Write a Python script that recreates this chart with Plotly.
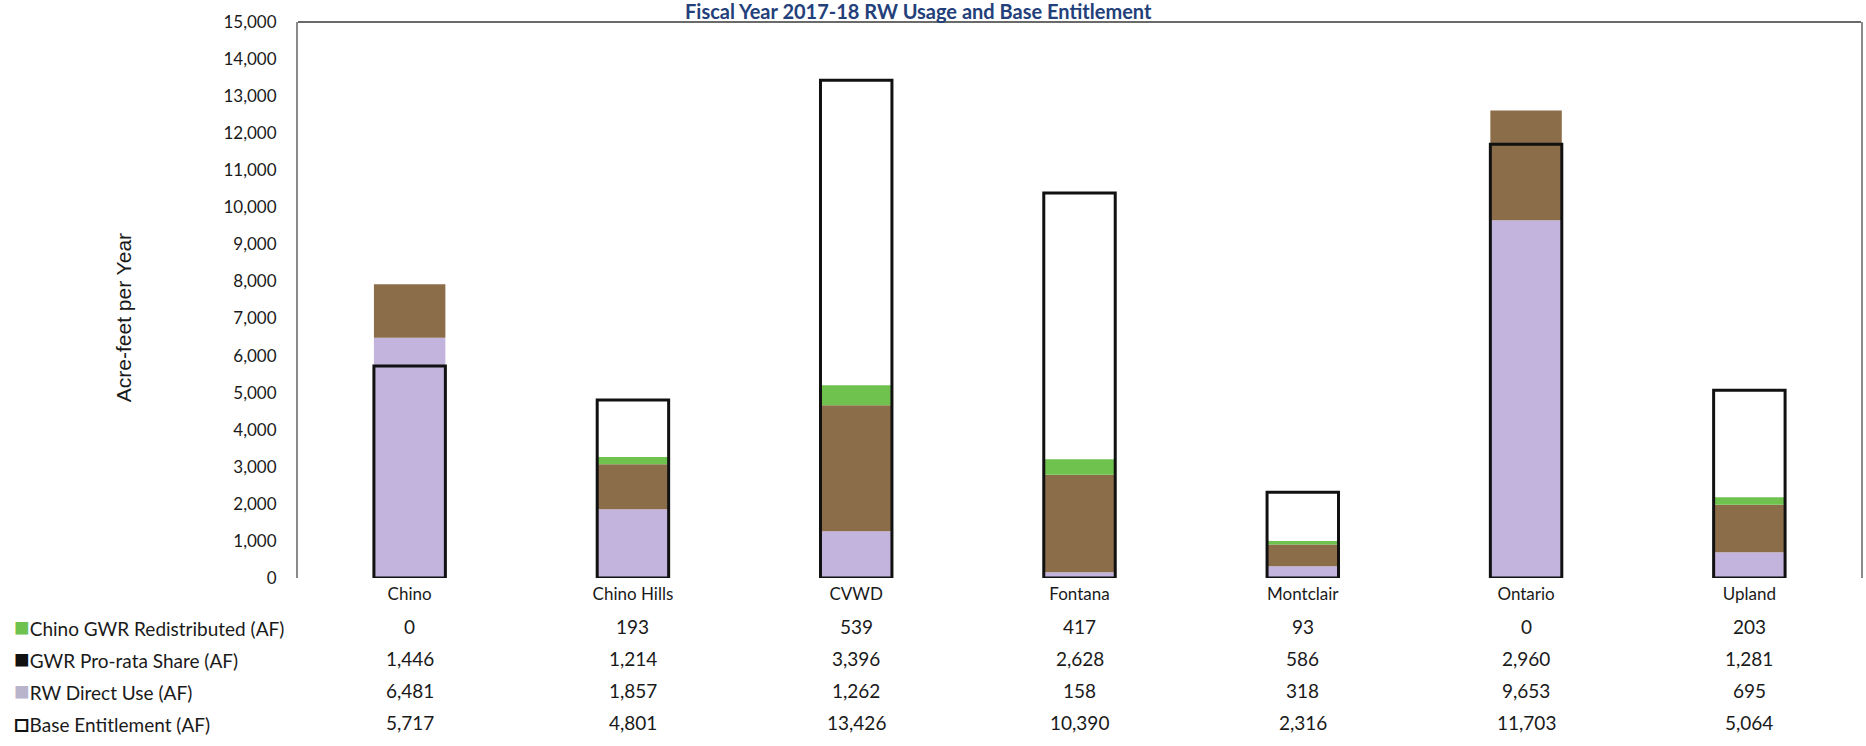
import numpy as np
import plotly.graph_objects as go

# Agencies and fiscal-year 2017-18 values (acre-feet)
agencies = ["Chino", "Chino Hills", "CVWD", "Fontana", "Montclair", "Ontario", "Upland"]
gwr_redistributed = [0, 193, 539, 417, 93, 0, 203]
gwr_prorata = [1446, 1214, 3396, 2628, 586, 2960, 1281]
rw_direct_use = [6481, 1857, 1262, 158, 318, 9653, 695]
base_entitlement = [5717, 4801, 13426, 10390, 2316, 11703, 5064]

y_ticks = list(range(0, 15001, 1000))

PURPLE = "#C3B4DD"
BROWN = "#8C6D4A"
GREEN = "#6FC24E"
FONT = "Lato"

rw = np.array(rw_direct_use)
pr = np.array(gwr_prorata)
gr = np.array(gwr_redistributed)

BAR_W = 0.32

fig = go.Figure()
fig.add_trace(go.Bar(x=agencies, y=rw, base=0, width=BAR_W,
                     marker=dict(color=PURPLE, line=dict(width=0)),
                     name="RW Direct Use (AF)"))
fig.add_trace(go.Bar(x=agencies, y=pr, base=rw, width=BAR_W,
                     marker=dict(color=BROWN, line=dict(width=0)),
                     name="GWR Pro-rata Share (AF)"))
fig.add_trace(go.Bar(x=agencies, y=gr, base=rw + pr, width=BAR_W,
                     marker=dict(color=GREEN, line=dict(width=0)),
                     name="Chino GWR Redistributed (AF)"))
fig.add_trace(go.Bar(x=agencies, y=base_entitlement, base=0, width=BAR_W,
                     marker=dict(color="rgba(0,0,0,0)", line=dict(color="#111111", width=3)),
                     name="Base Entitlement (AF)"))

fig.update_layout(
    width=1866, height=746,
    margin=dict(l=298, r=3, t=22, b=168),
    barmode="overlay",
    showlegend=False,
    plot_bgcolor="white",
    paper_bgcolor="white",
    font=dict(family=FONT, color="#1a1a1a", size=16),
)
fig.update_xaxes(
    showline=False, showgrid=False, ticks="",
    tickfont=dict(size=17, family=FONT, color="#1a1a1a"),
    ticklabelstandoff=4,
)
fig.update_yaxes(
    range=[0, 15000], tickvals=y_ticks,
    ticktext=[f"{v:,}" for v in y_ticks],
    showgrid=False, zeroline=False,
    showline=True, mirror=True, linecolor="#8a8a8a", linewidth=2,
    ticks="", ticklabelstandoff=16,
    tickfont=dict(size=17, family=FONT, color="#1a1a1a"),
)

# top border of the plotting box
fig.add_shape(type="line", xref="paper", yref="paper", x0=0, x1=1, y0=1, y1=1,
              line=dict(color="#6a6a6a", width=2))

PLOT_H = 746 - 22 - 168

# chart title, squeezed into the strip above the box
fig.add_annotation(text="<b>Fiscal Year 2017-18 RW Usage and Base Entitlement</b>",
                   xref="paper", yref="paper", x=(919 - 298) / 1565, y=1 + 25 / PLOT_H,
                   xanchor="center", yanchor="top", showarrow=False,
                   font=dict(size=20, family=FONT, color="#23407A"))

# y-axis title
fig.add_annotation(text="Acre-feet per Year", xref="paper", yref="paper",
                   x=-(298 - 123) / 1565, y=(578 - 318) / PLOT_H, textangle=-90,
                   xanchor="center", yanchor="middle", showarrow=False,
                   font=dict(size=21, family="Liberation Sans", color="#1a1a1a"))

# data table under the chart
rows = [
    ("■", GREEN, "Chino GWR Redistributed (AF)", gwr_redistributed),
    ("■", "#111111", "GWR Pro-rata Share (AF)", gwr_prorata),
    ("■", "#B9B4CC", "RW Direct Use (AF)", rw_direct_use),
    ("□", "#111111", "Base Entitlement (AF)", base_entitlement),
]
row_y = [626, 658, 690, 722]
for (sym, col, label, vals), py in zip(rows, row_y):
    yp = (578 - py) / PLOT_H
    fig.add_annotation(
        text=f"<span style='color:{col};font-size:26px'><b>{sym}</b></span>{label}",
        xref="paper", yref="paper", x=-(298 - 12) / 1565, y=yp,
        xanchor="left", yanchor="middle", showarrow=False,
        font=dict(size=19, family=FONT, color="#1a1a1a"))
    for a, v in zip(agencies, vals):
        fig.add_annotation(text=f"{v:,}", xref="x", yref="paper", x=a, y=yp,
                           xanchor="center", yanchor="middle", showarrow=False,
                           font=dict(size=19, family=FONT, color="#1a1a1a"))

fig.write_html("out.html")
